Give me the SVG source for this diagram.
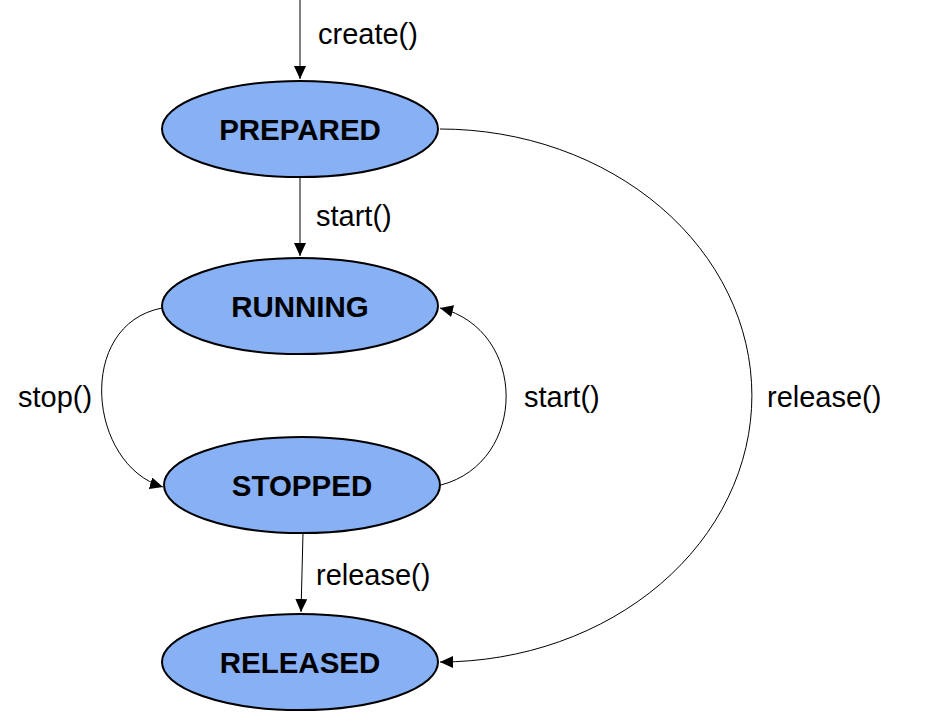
<svg xmlns="http://www.w3.org/2000/svg" width="931" height="712" viewBox="0 0 931 712">
<style>
.node ellipse{fill:#88b0f5;stroke:#000;stroke-width:2}
.node text{font-family:"Liberation Sans",Arial,sans-serif;font-weight:bold;font-size:29.5px;text-anchor:middle;fill:#000}
.edge{fill:none;stroke:#000;stroke-width:1}
.lbl{font-family:"Liberation Sans",Arial,sans-serif;font-size:29px;fill:#000}
</style>
<defs>
<marker id="ah" markerUnits="userSpaceOnUse" markerWidth="14" markerHeight="12" refX="13" refY="6" orient="auto">
<path d="M0,0 L13,6 L0,12 Z" fill="#000"/>
</marker>
</defs>
<rect width="931" height="712" fill="#fff"/>
<g id="connectors">
<path class="edge" d="M300,0 L300,79" marker-end="url(#ah)"/>
<path class="edge" d="M300,177 L300,256" marker-end="url(#ah)"/>
<path class="edge" d="M162,308 C75,325 88,465 163,487" marker-end="url(#ah)"/>
<path class="edge" d="M441,485 C528,462 528,330 440,308" marker-end="url(#ah)"/>
<path class="edge" d="M303,533 L301,612" marker-end="url(#ah)"/>
<path class="edge" d="M440,129 A312,266.5 0 0 1 440,662" marker-end="url(#ah)"/>
<text class="lbl" x="318" y="44">create()</text>
<text class="lbl" x="316" y="226">start()</text>
<text class="lbl" x="18" y="407">stop()</text>
<text class="lbl" x="524" y="407">start()</text>
<text class="lbl" x="767" y="407">release()</text>
<text class="lbl" x="316" y="585">release()</text>
</g>
<g id="prepared" class="node"><ellipse cx="300" cy="129" rx="138" ry="48"/><text x="300" y="140">PREPARED</text></g>
<g id="running" class="node"><ellipse cx="300" cy="306" rx="138" ry="48"/><text x="300" y="317">RUNNING</text></g>
<g id="stopped" class="node"><ellipse cx="302" cy="485" rx="138" ry="48"/><text x="302" y="496">STOPPED</text></g>
<g id="released" class="node"><ellipse cx="300" cy="662" rx="138" ry="48"/><text x="300" y="673">RELEASED</text></g>
</svg>
